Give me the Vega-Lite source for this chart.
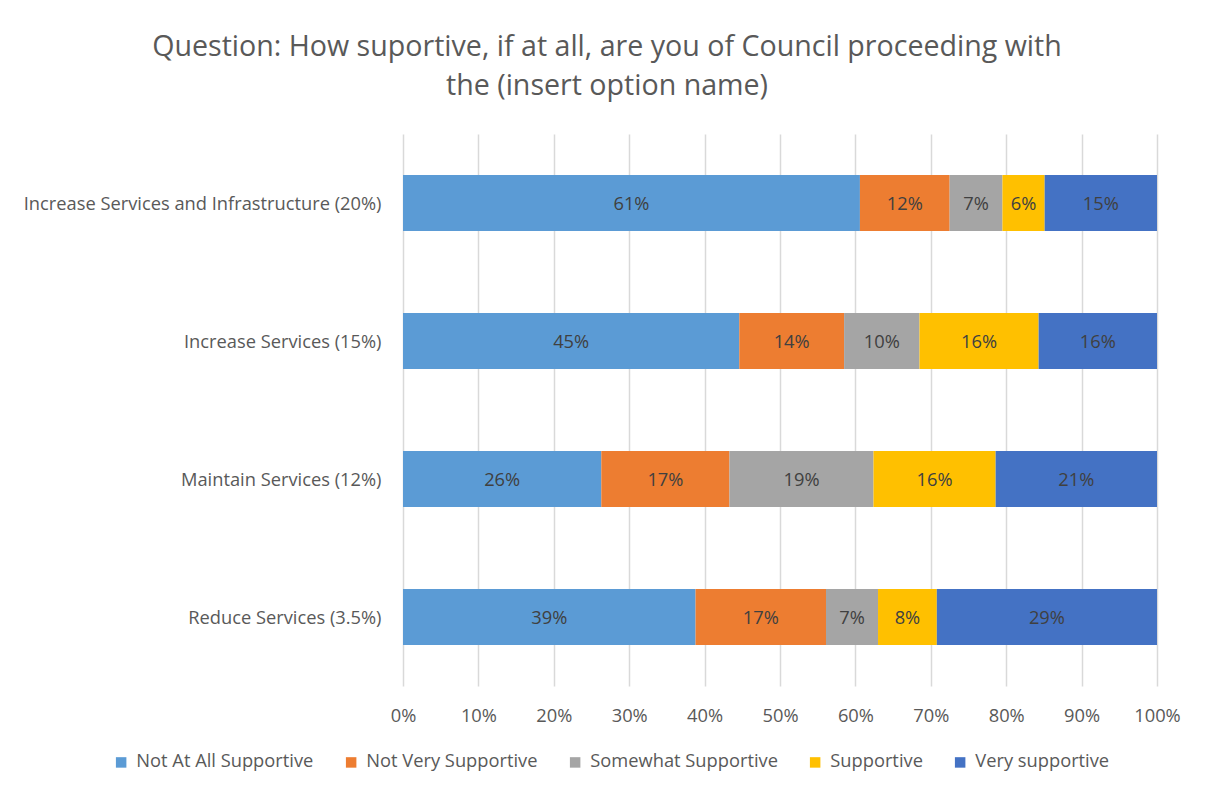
{
  "$schema": "https://vega.github.io/schema/vega-lite/v6.json",
  "width": 754,
  "height": 552,
  "autosize": {"type": "none"},
  "padding": {"left": 403, "top": 134, "right": 48, "bottom": 105},
  "background": "white",
  "title": {
    "text": ["Question: How suportive, if at all, are you of Council proceeding with", "the (insert option name)"],
    "font": "Open Sans",
    "fontSize": 28.6,
    "fontWeight": "normal",
    "color": "#595959",
    "anchor": "middle",
    "dx": -173,
    "lineHeight": 39,
    "offset": 33
  },
  "data": {
    "values": [
      {"Option": "Increase Services and Infrastructure (20%)", "Response": "Not At All Supportive", "Share": 0.606},
      {"Option": "Increase Services and Infrastructure (20%)", "Response": "Not Very Supportive", "Share": 0.119},
      {"Option": "Increase Services and Infrastructure (20%)", "Response": "Somewhat Supportive", "Share": 0.070},
      {"Option": "Increase Services and Infrastructure (20%)", "Response": "Supportive", "Share": 0.056},
      {"Option": "Increase Services and Infrastructure (20%)", "Response": "Very supportive", "Share": 0.149},
      {"Option": "Increase Services (15%)", "Response": "Not At All Supportive", "Share": 0.446},
      {"Option": "Increase Services (15%)", "Response": "Not Very Supportive", "Share": 0.139},
      {"Option": "Increase Services (15%)", "Response": "Somewhat Supportive", "Share": 0.100},
      {"Option": "Increase Services (15%)", "Response": "Supportive", "Share": 0.158},
      {"Option": "Increase Services (15%)", "Response": "Very supportive", "Share": 0.157},
      {"Option": "Maintain Services (12%)", "Response": "Not At All Supportive", "Share": 0.263},
      {"Option": "Maintain Services (12%)", "Response": "Not Very Supportive", "Share": 0.170},
      {"Option": "Maintain Services (12%)", "Response": "Somewhat Supportive", "Share": 0.191},
      {"Option": "Maintain Services (12%)", "Response": "Supportive", "Share": 0.162},
      {"Option": "Maintain Services (12%)", "Response": "Very supportive", "Share": 0.214},
      {"Option": "Reduce Services (3.5%)", "Response": "Not At All Supportive", "Share": 0.388},
      {"Option": "Reduce Services (3.5%)", "Response": "Not Very Supportive", "Share": 0.173},
      {"Option": "Reduce Services (3.5%)", "Response": "Somewhat Supportive", "Share": 0.069},
      {"Option": "Reduce Services (3.5%)", "Response": "Supportive", "Share": 0.078},
      {"Option": "Reduce Services (3.5%)", "Response": "Very supportive", "Share": 0.292}
    ]
  },
  "encoding": {
    "y": {
      "field": "Option",
      "type": "nominal",
      "sort": null,
      "scale": {"paddingInner": 0.594, "paddingOuter": 0.297},
      "axis": {
        "title": null,
        "domain": false,
        "ticks": false,
        "labelPadding": 22,
        "labelOffset": 2,
        "labelLimit": 420,
        "labelFont": "Open Sans",
        "labelFontSize": 18.3,
        "labelColor": "#595959"
      }
    }
  },
  "layer": [
    {
      "mark": {"type": "bar"},
      "encoding": {
        "x": {
          "field": "Share",
          "type": "quantitative",
          "stack": "normalize",
          "scale": {"domain": [0, 1]},
          "axis": {
            "title": null,
            "values": [0, 0.1, 0.2, 0.3, 0.4, 0.5, 0.6, 0.7, 0.8, 0.9, 1],
            "format": ".0%",
            "grid": true,
            "gridColor": "#d9d9d9",
            "gridWidth": 1.5,
            "domain": false,
            "ticks": false,
            "labelFlush": false,
            "labelPadding": 21,
            "labelFont": "Open Sans",
            "labelFontSize": 18.3,
            "labelColor": "#595959"
          }
        },
        "color": {
          "field": "Response",
          "type": "nominal",
          "scale": {
            "domain": ["Not At All Supportive", "Not Very Supportive", "Somewhat Supportive", "Supportive", "Very supportive"],
            "range": ["#5B9BD5", "#ED7D31", "#A5A5A5", "#FFC000", "#4472C4"]
          },
          "legend": {
            "title": null,
            "orient": "none",
            "direction": "horizontal",
            "columns": 5,
            "legendX": -291,
            "legendY": 619,
            "symbolType": "square",
            "symbolSize": 110,
            "symbolStrokeWidth": 0,
            "labelOffset": 6,
            "columnPadding": 28,
            "labelFont": "Open Sans",
            "labelFontSize": 18.3,
            "labelColor": "#595959",
            "labelLimit": 300
          }
        },
        "order": {"field": "Response", "sort": "ascending"}
      }
    },
    {
      "mark": {"type": "text", "font": "Open Sans", "fontSize": 18.3, "color": "#404040", "baseline": "middle", "align": "center", "dy": 2},
      "encoding": {
        "x": {"field": "Share", "type": "quantitative", "stack": "normalize", "bandPosition": 0.5},
        "detail": {"field": "Response"},
        "order": {"field": "Response", "sort": "ascending"},
        "text": {"field": "Share", "type": "quantitative", "format": ".0%"}
      }
    }
  ],
  "config": {
    "view": {"stroke": null}
  }
}
